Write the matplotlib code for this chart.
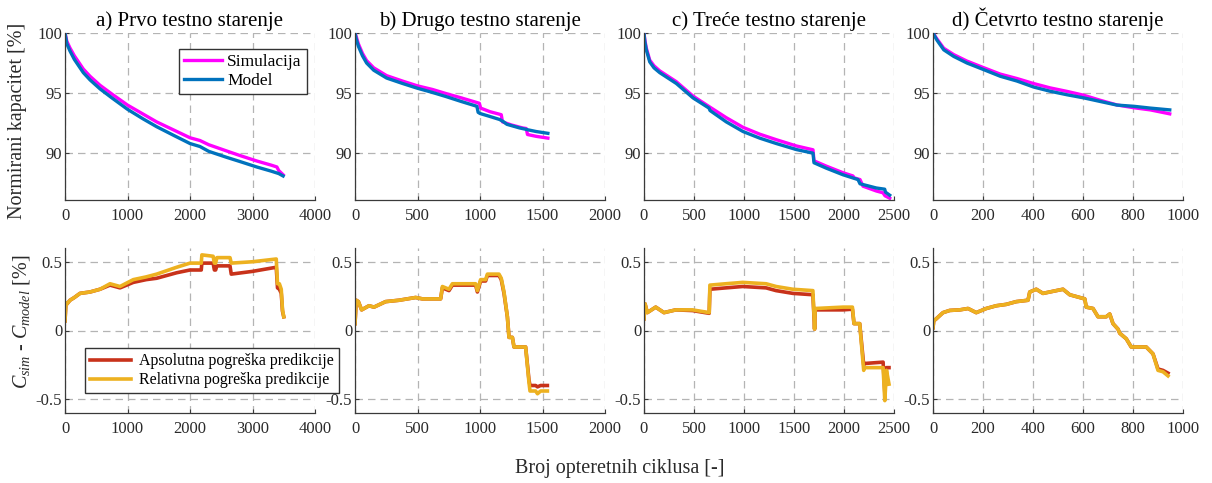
import matplotlib
matplotlib.use("Agg")
import matplotlib.pyplot as plt

plt.rcParams["font.family"] = ["Liberation Serif", "DejaVu Serif"]
plt.rcParams["mathtext.fontset"] = "custom"
plt.rcParams["mathtext.rm"] = "Liberation Serif"
plt.rcParams["mathtext.it"] = "Liberation Serif:italic"

titles = ["a) Prvo testno starenje", "b) Drugo testno starenje",
          "c) Treće testno starenje", "d) Četvrto testno starenje"]
x_limits = [4000, 2000, 2500, 1000]
x_steps = [1000, 500, 500, 200]

# ---- a) capacity
a_mod_x = [0, 30, 80, 150, 293, 400, 560, 750, 1000, 1250, 1467, 1750, 2000, 2160, 2300,
           2587, 2800, 3067, 3300, 3390, 3420, 3490]
a_mod_y = [100, 99.1, 98.5, 97.8, 96.7, 96.1, 95.35, 94.6, 93.65, 92.85, 92.2, 91.45, 90.8,
           90.55, 90.15, 89.65, 89.3, 88.85, 88.5, 88.35, 88.3, 88.1]
a_sim_x = a_mod_x
a_sim_y = [100, 99.3, 98.75, 98.1, 97.0, 96.4, 95.65, 94.92, 94.0, 93.25, 92.6, 91.9, 91.28,
           91.05, 90.7, 90.18, 89.8, 89.35, 89.0, 88.85, 88.55, 88.2]
# ---- b) capacity
b_mod_x = [0, 10, 27, 60, 93, 150, 253, 380, 500, 620, 731, 850, 975, 985, 1000, 1080, 1157,
           1190, 1215, 1316, 1360, 1380, 1449, 1543]
b_mod_y = [100, 99.5, 98.9, 98.1, 97.5, 96.9, 96.25, 95.8, 95.4, 95.05, 94.7, 94.3, 93.9, 93.4,
           93.3, 93.05, 92.8, 92.6, 92.4, 92.1, 92.0, 91.95, 91.8, 91.65]
b_sim_x = [0, 10, 27, 60, 93, 150, 253, 380, 500, 620, 731, 850, 995, 1005, 1080, 1170, 1180,
           1250, 1340, 1370, 1380, 1449, 1543]
b_sim_y = [100, 99.7, 99.1, 98.3, 97.7, 97.1, 96.45, 96.0, 95.6, 95.3, 94.95, 94.6, 94.15,
           93.75, 93.45, 93.2, 92.6, 92.35, 92.1, 92.05, 91.55, 91.4, 91.25]
# ---- c) capacity
c_mod_x = [0, 8, 23, 57, 100, 157, 323, 490, 650, 660, 823, 990, 1157, 1323, 1523, 1690, 1700,
           1823, 1990, 2140, 2160, 2323, 2407, 2415, 2457]
c_mod_y = [100, 99.3, 98.6, 97.6, 97.1, 96.7, 95.8, 94.6, 93.75, 93.55, 92.6, 91.8, 91.25,
           90.8, 90.3, 90.0, 89.2, 88.75, 88.2, 87.8, 87.45, 87.1, 87.0, 86.75, 86.5]
c_sim_x = [0, 8, 23, 57, 100, 157, 323, 490, 650, 823, 990, 1157, 1323, 1523, 1690, 1700,
           1823, 1990, 2090, 2100, 2160, 2190, 2323, 2390, 2410, 2457]
c_sim_y = [100, 99.45, 98.75, 97.75, 97.27, 96.85, 95.95, 94.75, 93.88, 92.95, 92.15, 91.58,
           91.12, 90.6, 90.28, 89.36, 88.92, 88.37, 88.1, 87.95, 87.8, 87.25, 86.85, 86.7,
           86.45, 86.25]
# ---- d) capacity
d_mod_x = [0, 16, 43, 83, 136, 203, 269, 336, 403, 469, 536, 603, 669, 736, 803, 869, 947]
d_mod_y = [100, 99.4, 98.6, 98.05, 97.5, 96.95, 96.4, 96.0, 95.5, 95.15, 94.86, 94.6, 94.3,
           94.0, 93.9, 93.75, 93.6]
d_sim_x = d_mod_x
d_sim_y = [100, 99.5, 98.73, 98.2, 97.66, 97.11, 96.58, 96.21, 95.79, 95.43, 95.14, 94.82,
           94.4, 94.01, 93.78, 93.6, 93.27]

# ---- prediction errors
a_err_x = [0, 15, 25, 80, 150, 240, 400, 560, 720, 880, 1093, 1300, 1467, 1787, 2000, 2180,
           2190, 2370, 2390, 2410, 2430, 2640, 2660, 3000, 3380, 3400, 3430, 3460, 3480, 3500]
a_err_rel = [0.07, 0.2, 0.19, 0.22, 0.24, 0.27, 0.28, 0.30, 0.34, 0.32, 0.37, 0.39, 0.41, 0.46,
             0.49, 0.49, 0.55, 0.54, 0.49, 0.49, 0.53, 0.53, 0.49, 0.50, 0.52, 0.34, 0.34,
             0.30, 0.15, 0.10]
a_err_abs = [0.07, 0.2, 0.19, 0.22, 0.24, 0.27, 0.28, 0.30, 0.33, 0.31, 0.35, 0.37, 0.38, 0.42,
             0.44, 0.44, 0.49, 0.49, 0.44, 0.44, 0.47, 0.47, 0.41, 0.43, 0.46, 0.31, 0.30,
             0.27, 0.14, 0.10]
b_err_x = [0, 10, 27, 53, 112, 152, 245, 352, 485, 539, 685, 699, 752, 779, 965, 979, 1005,
           1045, 1059, 1152, 1170, 1192, 1219, 1232, 1259, 1272, 1365, 1392, 1400, 1445, 1460,
           1485, 1539]
b_err_rel = [0.05, 0.22, 0.21, 0.15, 0.18, 0.17, 0.21, 0.22, 0.24, 0.23, 0.23, 0.32, 0.30,
             0.34, 0.34, 0.29, 0.37, 0.37, 0.41, 0.41, 0.38, 0.28, 0.10, -0.05, -0.05, -0.12,
             -0.12, -0.38, -0.44, -0.44, -0.46, -0.44, -0.44]
b_err_abs = [0.05, 0.22, 0.21, 0.15, 0.18, 0.17, 0.21, 0.22, 0.24, 0.23, 0.23, 0.31, 0.29,
             0.33, 0.33, 0.28, 0.36, 0.36, 0.40, 0.40, 0.37, 0.27, 0.10, -0.05, -0.05, -0.12,
             -0.12, -0.36, -0.40, -0.40, -0.41, -0.40, -0.40]
c_err_x = [0, 10, 33, 117, 200, 318, 485, 652, 659, 819, 987, 1221, 1321, 1488, 1689, 1706,
           1712, 1990, 2084, 2100, 2157, 2197, 2205, 2391, 2408, 2425, 2450]
c_err_rel = [0.085, 0.195, 0.13, 0.17, 0.13, 0.15, 0.15, 0.13, 0.33, 0.34, 0.35, 0.34, 0.32,
             0.30, 0.29, 0.01, 0.16, 0.17, 0.17, 0.05, 0.05, -0.29, -0.27, -0.27, -0.51,
             -0.29, -0.39]
c_err_abs = [0.085, 0.195, 0.13, 0.17, 0.13, 0.15, 0.145, 0.125, 0.30, 0.31, 0.32, 0.31, 0.29,
             0.27, 0.26, 0.01, 0.15, 0.15, 0.155, 0.05, 0.05, -0.25, -0.24, -0.23, -0.45,
             -0.27, -0.27]
d_err_x = [0, 3, 13, 40, 67, 107, 140, 173, 213, 253, 293, 333, 380, 387, 413, 440, 493, 520,
           547, 587, 607, 613, 640, 660, 693, 707, 720, 740, 747, 773, 793, 853, 880, 900, 920,
           940]
d_err_rel = [0.02, 0.07, 0.085, 0.13, 0.146, 0.15, 0.16, 0.13, 0.16, 0.18, 0.19, 0.21, 0.22,
             0.28, 0.30, 0.27, 0.29, 0.30, 0.26, 0.24, 0.23, 0.17, 0.16, 0.10, 0.10, 0.12, 0.05,
             0.01, -0.02, -0.06, -0.12, -0.12, -0.17, -0.29, -0.30, -0.33]
d_err_abs = [0.02, 0.07, 0.085, 0.13, 0.146, 0.15, 0.16, 0.13, 0.16, 0.18, 0.19, 0.21, 0.22,
             0.28, 0.30, 0.27, 0.29, 0.30, 0.26, 0.24, 0.23, 0.17, 0.16, 0.10, 0.10, 0.12, 0.05,
             0.01, -0.02, -0.06, -0.12, -0.12, -0.17, -0.28, -0.29, -0.31]

capacity = [(a_sim_x, a_sim_y, a_mod_x, a_mod_y), (b_sim_x, b_sim_y, b_mod_x, b_mod_y),
            (c_sim_x, c_sim_y, c_mod_x, c_mod_y), (d_sim_x, d_sim_y, d_mod_x, d_mod_y)]
errors = [(a_err_x, a_err_abs, a_err_rel), (b_err_x, b_err_abs, b_err_rel),
          (c_err_x, c_err_abs, c_err_rel), (d_err_x, d_err_abs, d_err_rel)]

C_SIM = "#FF00FF"
C_MOD = "#0072BD"
C_ABS = "#C8321A"
C_REL = "#EDB120"
GRID = dict(color="#b4b4b4", linestyle=(0, (6, 4)), linewidth=0.9)

W, H = 1212, 483
fig = plt.figure(figsize=(W / 100, H / 100), dpi=100)

lefts = [65, 355, 644, 933]
ax_w = 250


def style_axes(ax):
    ax.grid(True, **GRID)
    ax.set_axisbelow(True)
    for s in ["top", "right"]:
        ax.spines[s].set_visible(False)
    for s in ["left", "bottom"]:
        ax.spines[s].set_color("#3a3a3a")
        ax.spines[s].set_linewidth(0.9)
    ax.tick_params(direction="in", length=3, labelsize=12, colors="#3a3a3a",
                   labelcolor="#2a2a2a")
    ax.tick_params(axis="x", pad=6)
    ax.tick_params(axis="y", pad=2)


for i in range(4):
    # top row: capacity
    ax = fig.add_axes([lefts[i] / W, 1 - 200 / H, ax_w / W, 167 / H])
    sx, sy, mx, my = capacity[i]
    ax.plot(sx, sy, color=C_SIM, lw=2.4, label="Simulacija")
    ax.plot(mx, my, color=C_MOD, lw=2.4, label="Model")
    ax.set_xlim(0, x_limits[i])
    ax.set_ylim(86.1, 100)
    ax.set_xticks(range(0, x_limits[i] + 1, x_steps[i]))
    ax.set_yticks([90, 95, 100])
    style_axes(ax)
    ax.set_title(titles[i], fontsize=15, pad=5)
    if i == 0:
        ax.legend(loc="upper right", bbox_to_anchor=(0.968, 0.905), fontsize=12.5,
                  frameon=True, fancybox=False, edgecolor="#333333", framealpha=1,
                  handlelength=2.2, borderpad=0.3, labelspacing=0.15, handletextpad=0.3,
                  borderaxespad=0)

    # bottom row: errors
    ax2 = fig.add_axes([lefts[i] / W, 1 - 413 / H, ax_w / W, 165 / H])
    ex, ea, er = errors[i]
    ax2.plot(ex, ea, color=C_ABS, lw=2.6, label="Apsolutna pogreška predikcije")
    ax2.plot(ex, er, color=C_REL, lw=2.6, label="Relativna pogreška predikcije")
    ax2.set_xlim(0, x_limits[i])
    ax2.set_ylim(-0.6, 0.6)
    ax2.set_xticks(range(0, x_limits[i] + 1, x_steps[i]))
    ax2.set_yticks([-0.5, 0, 0.5])
    ax2.set_yticklabels(["-0.5", "0", "0.5"])
    style_axes(ax2)
    if i == 0:
        ax2.set_zorder(5)
        ax2.legend(loc="lower left", bbox_to_anchor=(0.08, 0.12), fontsize=11.5,
                   frameon=True, fancybox=False, edgecolor="#333333", framealpha=1,
                   handlelength=2.6, borderpad=0.3, labelspacing=0.2, handletextpad=0.5,
                   borderaxespad=0)

fig.text(18 / W, 1 - 121 / H, "Normirani kapacitet [%]", rotation=90, fontsize=14.5,
         ha="center", va="center", color="#2a2a2a")
fig.text(22 / W, 1 - 322 / H, r"$C_{sim}$ - $C_{model}$ [%]", rotation=90, fontsize=14.5,
         ha="center", va="center", color="#2a2a2a")
fig.text(620 / W, 1 - 468 / H, "Broj opteretnih ciklusa [-]", fontsize=14.5,
         ha="center", va="center", color="#2a2a2a")

fig.savefig("out.png", dpi=100)
